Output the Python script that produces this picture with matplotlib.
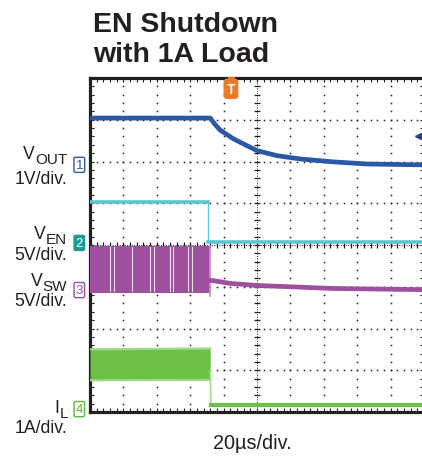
import numpy as np
import matplotlib
matplotlib.use("Agg")
import matplotlib.pyplot as plt

plt.rcParams['font.family'] = ['Liberation Sans', 'DejaVu Sans']

# traces, in scope divisions (x: 0..10 time div, y: 0..8 vertical div)
t_vout = [0, 3.6, 3.75, 3.9, 4.3, 5.0, 5.6, 6.3, 7.3, 8.3, 9.9, 10]
vout = [7.04, 7.04, 6.88, 6.75, 6.54, 6.26, 6.14, 6.06, 5.99, 5.94, 5.92, 5.92]

t_ven = [0, 3.54, 3.54, 10]
ven = [5.02, 5.02, 4.08, 4.08]

t_sw_on = [0, 3.6]
sw_hi = [3.98, 3.98]
sw_lo = [2.85, 2.85]
sw_gaps = [0.6, 0.72, 1.26, 1.8, 1.92, 2.4, 2.49, 2.93, 3.05]
t_sw_off = [3.63, 3.65, 4.2, 5.0, 6.0, 7.2, 10]
sw_off = [3.15, 3.15, 3.08, 3.03, 3.0, 2.96, 2.93]

t_il_on = [0, 3.6]
il_hi = [1.5, 1.52]
il_lo = [0.76, 0.77]
t_il_off = [3.6, 3.62, 10]
il_off = [1.0, 0.17, 0.17]

ch_names = ['1', '2', '3', '4']
ch_ground = [5.92, 4.05, 2.92, 0.07]
ch_colors = ['#2b57a7', '#1f9a94', '#9e4f9e', '#5cb83c']
ch_filled = [False, True, False, False]
trig_t = 4.22
trig_level = 6.61

c_vout = '#2b57a7'
c_ven = '#5cc6d0'
c_sw = '#9e4f9e'
c_il = '#6cbf47'
ink = '#231f20'

W, H = 422, 460
fig = plt.figure(figsize=(W / 100, H / 100), dpi=100)
ax = fig.add_axes([90 / W, 1 - 413 / H, 334 / W, 334 / H])
ax.set_xlim(0, 10)
ax.set_ylim(0, 8)

# graticule
dots_x = np.arange(0, 10.01, 0.2)
dots_y = np.arange(0, 8.01, 0.2)
for gy in range(1, 8):
    if gy == 4:
        continue
    ax.plot(dots_x, [gy] * len(dots_x), ls='none', marker='s', ms=1.1, color=ink, mew=0, zorder=1)
for gx in range(1, 10):
    if gx == 5:
        continue
    ax.plot([gx] * len(dots_y), dots_y, ls='none', marker='s', ms=1.1, color=ink, mew=0, zorder=1)
# centre lines with small ticks
ax.axvline(5, color=ink, lw=0.7, ls=(0, (1, 1.5)), zorder=1)
ax.plot([5] * len(dots_y), dots_y, ls='none', marker='_', ms=4, mew=0.9, color=ink, zorder=1)
ax.axhline(4, color=ink, lw=0.7, ls=(0, (1, 1.5)), zorder=1)
ax.plot(dots_x, [4] * len(dots_x), ls='none', marker='|', ms=4, mew=0.9, color=ink, zorder=1)

# frame ticks
ax.set_xticks(dots_x)
ax.set_yticks(dots_y)
ax.tick_params(direction='in', length=3, width=0.8, color=ink,
               top=True, right=True, labelbottom=False, labelleft=False)
for s in ax.spines.values():
    s.set_linewidth(2.3)
    s.set_color(ink)

# V_OUT
ax.plot(t_vout, vout, color=c_vout, lw=3.4, solid_capstyle='butt', zorder=4)

# V_EN
ax.plot(t_ven[:2], ven[:2], color=c_ven, lw=2.6, zorder=4)
ax.plot(t_ven[1:3], ven[1:3], color=c_ven, lw=1.0, zorder=4)
ax.plot(t_ven[2:], ven[2:], color=c_ven, lw=2.6, zorder=4)

# V_SW
ax.fill_between(t_sw_on, sw_lo, sw_hi, color=c_sw, lw=0, zorder=3)
for g in sw_gaps:
    ax.plot([g, g], [sw_lo[0] + 0.05, sw_hi[0] - 0.03], color='white', lw=0.8, alpha=0.8, zorder=3)
ax.plot([3.6, 3.6], [2.79, 3.98], color='#c68fc5', lw=1.2, zorder=3)
ax.plot(t_sw_off, sw_off, color=c_sw, lw=3.4, zorder=3)

# I_L
ax.fill_between(t_il_on, il_lo, il_hi, color=c_il, lw=0, zorder=3)
ax.plot(t_il_on, il_hi, color='#9fd884', lw=1.6, zorder=3)
ax.plot(t_il_on, il_lo, color='#9fd884', lw=1.6, zorder=3)
ax.plot(t_il_off[:2], il_off[:2], color='#a6da8c', lw=1.2, zorder=3)
ax.plot(t_il_off[1:], il_off[1:], color=c_il, lw=3.0, zorder=3)

# trigger marker
ax.plot([trig_t], [7.96], marker='v', ms=5, color='#f07a28', clip_on=False, zorder=6)
ax.text(trig_t, 7.74, 'T', color='white', fontsize=10, fontweight='bold',
        ha='center', va='center', zorder=6,
        bbox=dict(boxstyle='round,pad=0.18', fc='#f07a28', ec='#f07a28'))
ax.plot([9.83], [trig_level], marker='<', ms=5, color='#2b3f8f', zorder=6)
ax.plot([9.83, 9.98], [trig_level, trig_level], color='#2b3f8f', lw=1.2, zorder=6)

# channel ground markers
for name, gnd, col, filled in zip(ch_names, ch_ground, ch_colors, ch_filled):
    ax.text(-0.32, gnd, name, color='white' if filled else col, fontsize=9.5,
            ha='center', va='center', clip_on=False, zorder=6,
            bbox=dict(boxstyle='round,pad=0.12', fc=col if filled else 'white', ec=col, lw=1.0))


def px(x, y):
    return x / W, 1 - y / H


renderer = fig.canvas.get_renderer()


def sub_label(x_right, base_y, main, sub):
    # main letter plus a larger-than-mathtext subscript, right aligned
    s = fig.text(*px(x_right, base_y + 5), sub, fontsize=11, color=ink, ha='right', va='baseline')
    w = s.get_window_extent(renderer).width
    fig.text(*px(x_right - w, base_y), main, fontsize=12.7, color=ink, ha='right', va='baseline')


# title
fig.text(*px(93, 32), 'EN Shutdown', fontsize=20.5, fontweight='bold', color=ink, va='baseline')
fig.text(*px(93, 62), 'with 1A Load', fontsize=20.5, fontweight='bold', color=ink, va='baseline')

# channel labels
lab = dict(fontsize=12.7, color=ink, ha='right', va='baseline')
sub_label(67, 159, 'V', 'OUT')
fig.text(*px(67, 184), '1V/div.', **lab)
sub_label(67, 239, 'V', 'EN')
fig.text(*px(67, 260), '5V/div.', **lab)
sub_label(67, 286, 'V', 'SW')
fig.text(*px(67, 306), '5V/div.', **lab)
sub_label(68, 413, 'I', 'L')
fig.text(*px(67, 433), '1A/div.', **lab)

fig.text(*px(213, 449), '20µs/div.', fontsize=14.3, color=ink, va='baseline')

fig.savefig('out.png', dpi=100)
